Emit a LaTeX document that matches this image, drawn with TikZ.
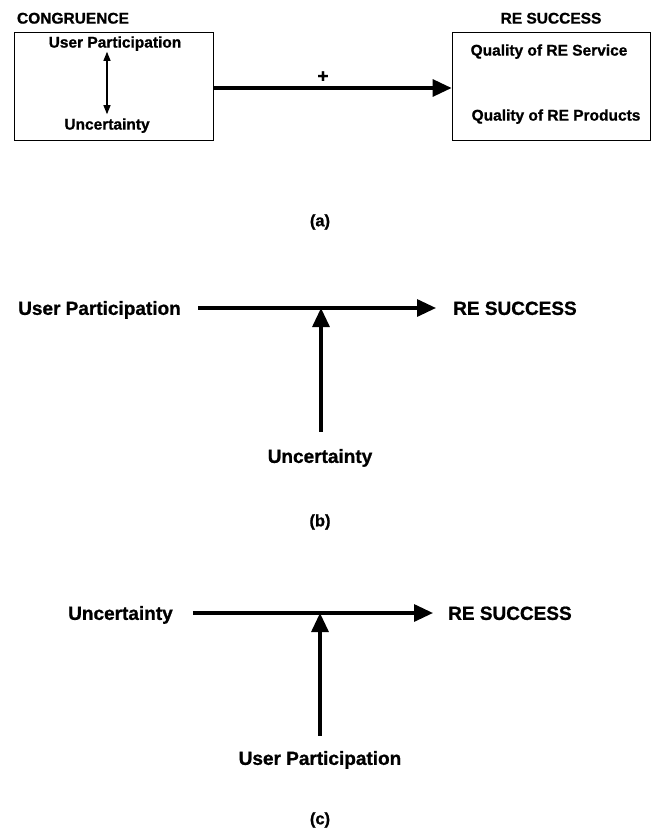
\documentclass[tikz,border=0pt]{standalone}
\usepackage{fontspec}
\setmainfont{Liberation Sans}[BoldFeatures={FakeBold=1}]
\usetikzlibrary{arrows.meta}
\begin{document}
\begin{tikzpicture}[x=1pt,y=-1pt,
  small/.style={font=\bfseries\fontsize{15.5}{18}\selectfont, inner sep=0pt, text height=11.2pt, text depth=0pt},
  big/.style={font=\bfseries\fontsize{19}{22}\selectfont, inner sep=0pt, text height=13.7pt, text depth=0pt},
  capt/.style={font=\bfseries\fontsize{16.5}{19}\selectfont, inner sep=0pt},
  box/.style={draw, line width=0.8pt, inner sep=0pt},
  bigarrow/.style={line width=3.2pt, -{Triangle[length=19pt,width=17pt]}},
  dblarrow/.style={line width=1.1pt, {Triangle[length=9pt,width=7pt]}-{Triangle[length=9pt,width=7pt]}}]
\useasboundingbox (0,0) rectangle (653,832);

% ---------- (a) ----------
\node[box, minimum width=199pt, minimum height=108pt] (cong) at (113.5,86) {};
\node[box, minimum width=198pt, minimum height=108pt] (succ) at (551,86) {};
\node[small] (congt) at (73,18) {CONGRUENCE};
\node[small] (succt) at (551,18) {RE SUCCESS};
\node[small] (upa) at (115,42) {User Participation};
\node[small] (unca) at (107,124) {Uncertainty};
\draw[dblarrow] ([yshift=-4pt]unca.north |- upa.south) -- ([yshift=4pt]unca.north);
\node[small] (qs) at (549,50) {Quality of RE Service};
\node[small] (qp) at (556,115) {Quality of RE Products};
\draw[bigarrow] ([yshift=-2pt]cong.east) -- node[pos=0.46, above=4pt, font=\bfseries\fontsize{19}{22}\selectfont, inner sep=0pt] {+} ([yshift=-2pt]succ.west);
\node[capt] (capa) at (320,222) {(a)};

% ---------- (b) ----------
\node[big, anchor=west] (upb) at (18,308) {User Participation};
\node[big, anchor=west] (rsb) at (453,308) {RE SUCCESS};
\node[big] (uncb) at (320,456) {Uncertainty};
\draw[bigarrow, shorten <=17pt, shorten >=17pt] (upb.east) -- (rsb.west);
\draw[bigarrow, shorten <=17pt] ([xshift=1pt]uncb.north) -- ([xshift=1pt]uncb.north |- upb.east);
\node[capt] (capb) at (320,522) {(b)};

% ---------- (c) ----------
\node[big, anchor=west] (uncc) at (68,613) {Uncertainty};
\node[big, anchor=west] (rsc) at (448,613) {RE SUCCESS};
\node[big] (upc) at (320,758) {User Participation};
\draw[bigarrow, shorten <=20pt, shorten >=15pt] (uncc.east) -- (rsc.west);
\draw[bigarrow, shorten <=15pt] (upc.north) -- (upc.north |- uncc.east);
\node[capt] (capc) at (320,820) {(c)};
\end{tikzpicture}
\end{document}
